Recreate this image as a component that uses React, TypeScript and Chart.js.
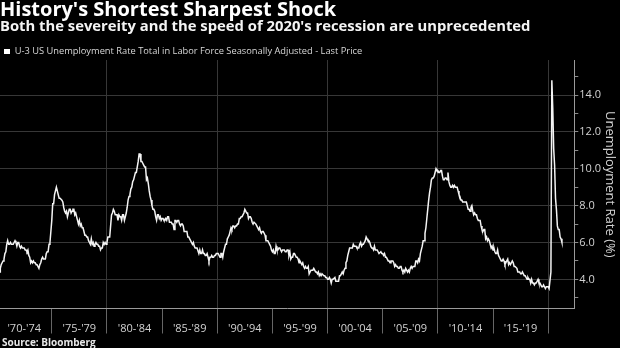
import React, { useEffect, useRef } from "react";
import { Chart, registerables } from "chart.js";

Chart.register(...registerables);

const TITLE = "History's Shortest Sharpest Shock";
const SUBTITLE = "Both the severeity and the speed of 2020's recession are unprecedented";
const SERIES_LABEL = "U-3 US Unemployment Rate Total in Labor Force Seasonally Adjusted - Last Price";
const Y_TITLE = "Unemployment Rate (%)";
const SOURCE = "Source: Bloomberg";

// Monthly U-3 unemployment rate (%), starting January 1970
const firstYear = 1970;
const rate1970s = [
  3.9, 4.2, 4.4, 4.6, 4.8, 4.9, 5.0, 5.1, 5.4, 5.5, 5.9, 6.1,
  5.9, 5.9, 6.0, 5.9, 5.9, 5.9, 6.0, 6.1, 6.0, 5.8, 6.0, 6.0,
  5.8, 5.7, 5.8, 5.7, 5.7, 5.7, 5.6, 5.6, 5.5, 5.6, 5.3, 5.2,
  4.9, 5.0, 4.9, 5.0, 4.9, 4.9, 4.8, 4.8, 4.8, 4.6, 4.8, 4.9,
  5.1, 5.2, 5.1, 5.1, 5.1, 5.4, 5.5, 5.5, 5.9, 6.0, 6.6, 7.2,
  8.1, 8.1, 8.6, 8.8, 9.0, 8.8, 8.6, 8.4, 8.4, 8.4, 8.3, 8.2,
  7.9, 7.7, 7.6, 7.7, 7.4, 7.6, 7.8, 7.8, 7.6, 7.7, 7.8, 7.8,
  7.5, 7.6, 7.4, 7.2, 7.0, 7.2, 6.9, 7.0, 6.8, 6.8, 6.8, 6.4,
  6.4, 6.3, 6.3, 6.1, 6.0, 5.9, 6.2, 5.9, 6.0, 5.8, 5.9, 6.0,
  5.9, 5.9, 5.8, 5.8, 5.6, 5.7, 5.7, 6.0, 5.9, 6.0, 5.9, 6.0,
];
const rate1980s = [
  6.3, 6.3, 6.3, 6.9, 7.5, 7.6, 7.8, 7.7, 7.5, 7.5, 7.5, 7.2,
  7.5, 7.4, 7.4, 7.2, 7.5, 7.5, 7.2, 7.4, 7.6, 7.9, 8.3, 8.5,
  8.6, 8.9, 9.0, 9.3, 9.4, 9.6, 9.8, 9.8, 10.1, 10.4, 10.8, 10.8,
  10.4, 10.4, 10.3, 10.2, 10.1, 10.1, 9.4, 9.5, 9.2, 8.8, 8.5, 8.3,
  8.0, 7.8, 7.8, 7.7, 7.4, 7.2, 7.5, 7.5, 7.3, 7.4, 7.2, 7.3,
  7.3, 7.2, 7.2, 7.3, 7.2, 7.4, 7.4, 7.1, 7.1, 7.1, 7.0, 7.0,
  6.7, 7.2, 7.2, 7.1, 7.2, 7.2, 7.0, 6.9, 7.0, 7.0, 6.9, 6.6,
  6.6, 6.6, 6.6, 6.3, 6.3, 6.2, 6.1, 6.0, 5.9, 6.0, 5.8, 5.7,
  5.7, 5.7, 5.7, 5.4, 5.6, 5.4, 5.4, 5.6, 5.4, 5.4, 5.3, 5.3,
  5.4, 5.2, 5.0, 5.2, 5.2, 5.3, 5.2, 5.2, 5.3, 5.3, 5.4, 5.4,
];
const rate1990s = [
  5.4, 5.3, 5.2, 5.4, 5.4, 5.2, 5.5, 5.7, 5.9, 5.9, 6.2, 6.3,
  6.4, 6.6, 6.8, 6.7, 6.9, 6.9, 6.8, 6.9, 6.9, 7.0, 7.0, 7.3,
  7.3, 7.4, 7.4, 7.4, 7.6, 7.8, 7.7, 7.6, 7.6, 7.3, 7.4, 7.4,
  7.3, 7.1, 7.0, 7.1, 7.1, 7.0, 6.9, 6.8, 6.7, 6.8, 6.6, 6.5,
  6.6, 6.6, 6.5, 6.4, 6.1, 6.1, 6.1, 6.0, 5.9, 5.8, 5.6, 5.5,
  5.6, 5.4, 5.4, 5.8, 5.6, 5.6, 5.7, 5.7, 5.6, 5.5, 5.6, 5.6,
  5.6, 5.5, 5.5, 5.6, 5.6, 5.3, 5.5, 5.1, 5.2, 5.2, 5.4, 5.4,
  5.3, 5.2, 5.2, 5.1, 4.9, 5.0, 4.9, 4.8, 4.9, 4.7, 4.6, 4.7,
  4.6, 4.6, 4.7, 4.3, 4.4, 4.5, 4.5, 4.5, 4.6, 4.5, 4.4, 4.4,
  4.3, 4.4, 4.2, 4.3, 4.2, 4.3, 4.3, 4.2, 4.2, 4.1, 4.1, 4.0,
];
const rate2000s = [
  4.0, 4.1, 4.0, 3.8, 4.0, 4.0, 4.0, 4.1, 3.9, 3.9, 3.9, 3.9,
  4.2, 4.2, 4.3, 4.4, 4.3, 4.5, 4.6, 4.9, 5.0, 5.3, 5.5, 5.7,
  5.7, 5.7, 5.7, 5.9, 5.8, 5.8, 5.8, 5.7, 5.7, 5.7, 5.9, 6.0,
  5.8, 5.9, 5.9, 6.0, 6.1, 6.3, 6.2, 6.1, 6.1, 6.0, 5.8, 5.7,
  5.7, 5.6, 5.8, 5.6, 5.6, 5.6, 5.5, 5.4, 5.4, 5.5, 5.4, 5.4,
  5.3, 5.4, 5.2, 5.2, 5.1, 5.0, 5.0, 4.9, 5.0, 5.0, 5.0, 4.9,
  4.7, 4.8, 4.7, 4.7, 4.6, 4.6, 4.7, 4.7, 4.5, 4.4, 4.5, 4.4,
  4.6, 4.5, 4.4, 4.5, 4.4, 4.6, 4.7, 4.6, 4.7, 4.7, 4.7, 5.0,
  5.0, 4.9, 5.1, 5.0, 5.4, 5.6, 5.8, 6.1, 6.1, 6.5, 6.8, 7.3,
  7.8, 8.3, 8.7, 9.0, 9.4, 9.5, 9.5, 9.6, 9.8, 10.0, 9.9, 9.9,
];
const rate2010s = [
  9.8, 9.8, 9.9, 9.9, 9.6, 9.4, 9.4, 9.5, 9.5, 9.4, 9.8, 9.3,
  9.1, 9.0, 9.0, 9.1, 9.0, 9.1, 9.0, 9.0, 9.0, 8.8, 8.6, 8.5,
  8.3, 8.3, 8.2, 8.2, 8.2, 8.2, 8.2, 8.0, 7.8, 7.8, 7.7, 7.9,
  8.0, 7.7, 7.5, 7.6, 7.5, 7.5, 7.3, 7.2, 7.2, 7.2, 6.9, 6.7,
  6.6, 6.7, 6.7, 6.2, 6.3, 6.1, 6.2, 6.1, 5.9, 5.7, 5.8, 5.6,
  5.7, 5.5, 5.4, 5.4, 5.6, 5.3, 5.2, 5.1, 5.0, 5.0, 5.1, 5.0,
  4.8, 4.9, 5.0, 5.1, 4.8, 4.9, 4.8, 4.9, 5.0, 4.9, 4.7, 4.7,
  4.7, 4.6, 4.4, 4.4, 4.4, 4.3, 4.3, 4.4, 4.3, 4.2, 4.2, 4.1,
  4.0, 4.1, 4.0, 4.0, 3.8, 4.0, 3.8, 3.8, 3.7, 3.8, 3.8, 3.9,
  4.0, 3.8, 3.8, 3.7, 3.6, 3.6, 3.7, 3.6, 3.5, 3.6, 3.6, 3.6,
];
const rate2020s = [
  3.5, 3.5, 4.4, 14.8, 13.3, 11.1, 10.2, 8.4, 7.8, 6.9, 6.7, 6.7,
  6.3, 6.2, 6.0,
];

// X axis: five-year periods
const periodStarts = [1970, 1975, 1980, 1985, 1990, 1995, 2000, 2005, 2010, 2015];
const periodLabels = ["'70-'74", "'75-'79", "'80-'84", "'85-'89", "'90-'94", "'95-'99", "'00-'04", "'05-'09", "'10-'14", "'15-'19"];
const xMin = 1970.305;
const xMax = 2022.37;

// Y axis
const yMin = 2.42;
const yMax = 15.9;
const yTickValues = [3, 4, 5, 6, 7, 8, 9, 10, 11, 12, 13, 14, 15];

const TRANSPARENT = "rgba(0,0,0,0)";
const GRID = "#373737";
const AXIS = "#9a9a9a";
const TICK_TEXT = "#d2d2d2";

export default function App() {
  const canvasRef = useRef<HTMLCanvasElement | null>(null);

  useEffect(() => {
    document.body.style.margin = "0";
    document.body.style.background = "#000";
    const canvas = canvasRef.current;
    if (!canvas) return;

    Chart.defaults.font.family = "'Open Sans', sans-serif";

    const monthly = [...rate1970s, ...rate1980s, ...rate1990s, ...rate2000s, ...rate2010s, ...rate2020s];
    const points = monthly.map((v, i) => ({ x: firstYear + (i + 1) / 12, y: v }));

    const boundaries = periodStarts.map((s) => s + 5);
    const mids = periodStarts.map((s) => s + 2.5);
    const isDecade = (v: number) => boundaries.includes(v) && v % 10 === 0;

    const chart = new Chart(canvas, {
      type: "line",
      data: {
        datasets: [
          {
            label: SERIES_LABEL,
            data: points,
            borderColor: "#f4f4f4",
            backgroundColor: "#ffffff",
            borderWidth: 1.5,
            pointRadius: 0,
            tension: 0,
          },
        ],
      },
      options: {
        responsive: false,
        animation: false,
        events: [],
        layout: { padding: 0 },
        plugins: {
          tooltip: { enabled: false },
          title: {
            display: true,
            text: TITLE,
            align: "start",
            color: "#ffffff",
            font: { size: 20, weight: "bold", lineHeight: 1.05 },
            padding: { top: 0, bottom: 0 },
          },
          subtitle: {
            display: true,
            text: SUBTITLE,
            align: "start",
            color: "#f4f4f4",
            font: { size: 14.8, weight: "bold", lineHeight: 1 },
            padding: { top: -1.4, bottom: 8.35 },
          },
          legend: {
            display: true,
            position: "top",
            align: "start",
            maxHeight: 17.25,
            labels: {
              boxWidth: 6,
              boxHeight: 5,
              padding: 4,
              color: "#d8d8d8",
              font: { size: 9.3 },
              generateLabels: () => [
                {
                  text: SERIES_LABEL,
                  fillStyle: "#ffffff",
                  strokeStyle: "#ffffff",
                  lineWidth: 0,
                  hidden: false,
                  datasetIndex: 0,
                  fontColor: "#d8d8d8",
                },
              ],
            },
          },
        },
        scales: {
          x: {
            type: "linear",
            position: "bottom",
            min: xMin,
            max: xMax,
            offset: false,
            afterBuildTicks: (scale: any) => {
              scale.ticks = [...mids, ...boundaries].sort((a, b) => a - b).map((v) => ({ value: v }));
            },
            afterFit: (scale: any) => {
              scale.height = 39.5;
            },
            ticks: {
              autoSkip: false,
              maxRotation: 0,
              minRotation: 0,
              color: TICK_TEXT,
              font: { size: 11 },
              padding: -11,
              callback: (value: any) => {
                const i = mids.indexOf(Number(value));
                return i >= 0 ? periodLabels[i] : "";
              },
            },
            grid: {
              drawTicks: true,
              tickLength: 25,
              color: (ctx: any) => (ctx.tick && isDecade(ctx.tick.value) ? GRID : TRANSPARENT),
              tickColor: (ctx: any) => (ctx.tick && boundaries.includes(ctx.tick.value) ? "#666666" : TRANSPARENT),
            },
            border: { display: true, color: AXIS, width: 1 },
          },
          y: {
            type: "linear",
            position: "right",
            min: yMin,
            max: yMax,
            afterBuildTicks: (scale: any) => {
              scale.ticks = yTickValues.map((v) => ({ value: v }));
            },
            afterFit: (scale: any) => {
              scale.width = 45.7;
            },
            ticks: {
              autoSkip: false,
              color: TICK_TEXT,
              font: { size: 11 },
              padding: 1,
              callback: (value: any) => (Number(value) % 2 === 0 ? Number(value).toFixed(1) : ""),
            },
            grid: {
              drawTicks: true,
              tickLength: 4,
              color: (ctx: any) => (ctx.tick && ctx.tick.value % 2 === 0 ? GRID : TRANSPARENT),
              tickColor: "#8a8a8a",
            },
            border: { display: true, color: AXIS, width: 1 },
            title: {
              display: true,
              text: Y_TITLE,
              color: TICK_TEXT,
              font: { size: 13 },
              padding: { top: 2.2, bottom: 0 },
            },
          },
        },
      } as any,
    });

    return () => {
      chart.destroy();
    };
  }, []);

  return (
    <div style={{ position: "absolute", left: 0, top: 0, width: 620, height: 348, background: "#000", overflow: "hidden" }}>
      <canvas ref={canvasRef} width={620} height={348} style={{ display: "block", width: 620, height: 348 }} />
      <div
        style={{
          position: "absolute",
          left: 2,
          top: 336.8,
          font: "bold 10px/10px 'Open Sans', sans-serif",
          color: "#e8e8e8",
          whiteSpace: "pre",
        }}
      >
        {SOURCE}
      </div>
    </div>
  );
}
